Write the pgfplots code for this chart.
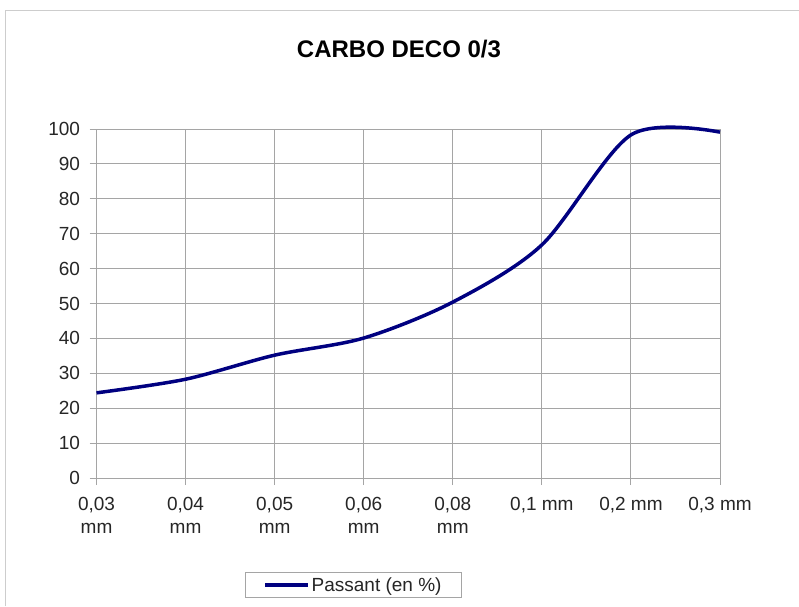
\documentclass[border=0pt]{standalone}
\usepackage{pgfplots}
\pgfplotsset{compat=1.18}
\usepackage{fontspec}
\setmainfont{Liberation Sans}
\definecolor{navyline}{RGB}{0,0,128}
\definecolor{gridgray}{RGB}{165,165,165}
\definecolor{framegray}{RGB}{205,205,205}
\begin{document}
\begin{tikzpicture}[x=1pt,y=1pt]
\path[use as bounding box] (0,0) rectangle (799,606);
\draw[framegray, line width=1pt] (5,0) -- (5,595) -- (799,595);
\node[anchor=base, font=\fontsize{24}{28}\selectfont\bfseries] at (399,548) {CARBO DECO 0/3};
\begin{axis}[
  at={(96.5pt,128pt)}, anchor=south west,
  scale only axis, width=623.5pt, height=349pt,
  xmin=0, xmax=7, ymin=0, ymax=100,
  xtick={0,1,2,3,4,5,6,7},
  xticklabels={{0,03\\mm},{0,04\\mm},{0,05\\mm},{0,06\\mm},{0,08\\mm},{0,1 mm},{0,2 mm},{0,3 mm}},
  ytick={0,10,...,100},
  grid=major,
  major grid style={gridgray, line width=1pt},
  axis line style={gridgray, line width=1pt},
  tick style={gridgray, line width=1pt},
  tick align=outside, tick pos=left,
  major tick length=7pt,
  clip=false,
  /pgf/number format/assume math mode=true,
  ticklabel style={font=\fontsize{19}{22.5}\selectfont, text=black!85},
  xticklabel style={align=center, yshift=-9pt},
  yticklabel style={xshift=-6pt},
  legend style={at={(0.412,-0.3066)}, anchor=center, draw=gridgray, line width=1pt,
    font=\fontsize{19}{23}\selectfont, text=black!85, inner xsep=18pt, inner ysep=3pt,
    nodes={inner sep=1.5pt}},
  legend image code/.code={\draw[navyline, line width=3.5pt] (0pt,0pt) -- (43pt,0pt);},
]
\addplot[navyline, line width=3.5pt, smooth, tension=0.5] coordinates {
  (0,24.4) (1,28.3) (2,35.2) (3,40.1) (4,50.4) (5,66.8) (6,98.3) (7,99.1)
};
\addlegendentry{Passant (en \%)}
\end{axis}
\end{tikzpicture}
\end{document}
